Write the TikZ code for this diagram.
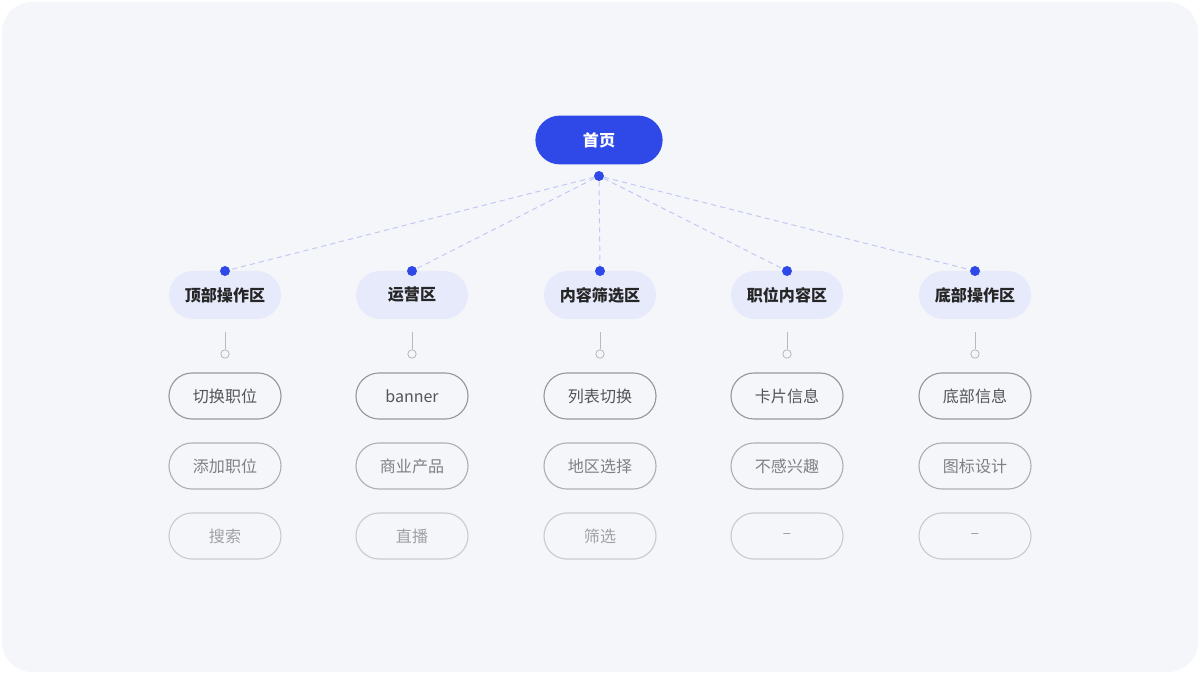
\documentclass[tikz,border=0pt]{standalone}
\usepackage{fontspec}
\setmainfont{Noto Sans CJK SC}
\usepackage{xcolor}
\usepackage{tikz}
\usetikzlibrary{positioning, calc}
\definecolor{PageBg}    {RGB}{245,246,250}
\definecolor{HomeBlue}  {RGB}{46, 73, 232}
\definecolor{ZoneBg}    {RGB}{230,234,250}
\definecolor{LinkDash}  {RGB}{192,201,242}
\definecolor{StemGray}  {RGB}{185,185,190}
\definecolor{ItemText}  {RGB}{85, 85, 88}
\definecolor{ItemLine}  {RGB}{150,150,155}

\tikzset{
  rootpill/.style={rectangle, rounded corners=0.61cm, fill=HomeBlue, text=white, font=\fontsize{11.4}{13}\selectfont\bfseries,
    minimum width=3.18cm, minimum height=1.22cm},
  zonepill/.style={rectangle, rounded corners=0.6cm, fill=ZoneBg, text=black!85, font=\fontsize{11.4}{13}\selectfont\bfseries,
    minimum width=2.8cm, minimum height=1.2cm},
  itempill/.style={rectangle, rounded corners=0.575cm, draw=ItemLine, line width=0.8pt, text=ItemText,
    minimum width=2.8cm, minimum height=1.15cm},
  hubdot/.style={circle, fill=HomeBlue, inner sep=0pt, minimum size=0.25cm},
  stemring/.style={circle, draw=StemGray, fill=PageBg, line width=0.6pt, inner sep=0pt, minimum size=0.21cm},
  linkdash/.style={LinkDash, line width=0.7pt, dash pattern=on 0.13cm off 0.1cm},
}

\begin{document}
\begin{tikzpicture}[x=0.025cm, y=-0.025cm, font=\fontsize{11.4}{13}\selectfont]
  \useasboundingbox (0,0) rectangle (1200,675);
  \fill[PageBg, rounded corners=0.75cm] (2,2) rectangle (1198,672);

  % top
  \node[rootpill] (home) at (599,140) {首页};
  \node[hubdot] (homedot) at (599,176) {};

  % zones
  \foreach \i/\xx/\zonelbl in {1/225/顶部操作区,2/412/运营区,3/600/内容筛选区,4/787/职位内容区,5/975/底部操作区}{
    \node[zonepill] (zone\i) at (\xx,295) {\zonelbl};
    \node[hubdot] (zonedot\i) at (\xx,271) {};
    \draw[linkdash] (homedot) -- (zonedot\i);
    \coordinate (stem\i) at (\xx,332);
    \node[stemring] (ring\i) at (\xx,354) {};
    \draw[StemGray, line width=0.6pt] (stem\i) -- (ring\i);
  }

  % items
  \foreach \i/\xx/\itema/\itemb/\itemc in {1/225/切换职位/添加职位/搜索,2/412/banner/商业产品/直播,
      3/600/列表切换/地区选择/筛选,4/787/卡片信息/不感兴趣/--,5/975/底部信息/图标设计/--}{
    \node[itempill] (item\i a) at (\xx,396) {\itema};
    \node[itempill, draw=ItemLine!75, text=ItemText!75] (item\i b) at (\xx,466) {\itemb};
    \node[itempill, draw=ItemLine!50, text=ItemText!55] (item\i c) at (\xx,536) {\itemc};
  }
\end{tikzpicture}
\end{document}
